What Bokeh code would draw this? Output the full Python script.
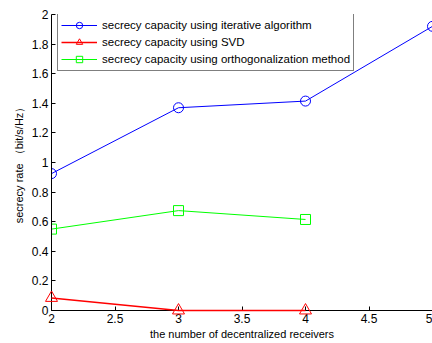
from bokeh.plotting import figure
from bokeh.models import Range1d, FixedTicker
from bokeh.embed import file_html
from bokeh.resources import INLINE

receivers = [2, 3, 4, 5]
iterative = [0.925, 1.37, 1.415, 1.92]
svd_x = [2, 3, 4]
svd = [0.085, 0.0, 0.0]
orth_x = [2, 3, 4]
orth = [0.55, 0.675, 0.615]

x_ticks = [2, 2.5, 3, 3.5, 4, 4.5, 5]
y_ticks = [0, 0.2, 0.4, 0.6, 0.8, 1, 1.2, 1.4, 1.6, 1.8, 2]

FONT = "Liberation Sans"

p = figure(width=432, height=343, output_backend="svg", toolbar_location=None,
           x_range=Range1d(2, 5), y_range=Range1d(0, 2),
           min_border_left=51, min_border_right=0, min_border_top=14, min_border_bottom=33)
p.outline_line_color = None
p.grid.visible = False

p.line(receivers, iterative, color="#0000FF", line_width=1, legend_label="secrecy capacity using iterative algorithm")
p.scatter(receivers, iterative, marker="circle", size=10, fill_color=None, line_color="#0000FF",
          legend_label="secrecy capacity using iterative algorithm")
p.line(svd_x, svd, color="#FF0000", line_width=1.5, legend_label="secrecy capacity using SVD", level="overlay")
p.scatter(svd_x, svd, marker="triangle", size=12, fill_color=None, line_color="#FF0000",
          legend_label="secrecy capacity using SVD", level="overlay")
p.line(orth_x, orth, color="#00FF00", line_width=1, legend_label="secrecy capacity using orthogonalization method")
p.scatter(orth_x, orth, marker="square", size=10, fill_color=None, line_color="#00FF00",
          legend_label="secrecy capacity using orthogonalization method")

for ax in (p.xaxis, p.yaxis):
    ax.major_tick_in = 4
    ax.major_tick_out = 0
    ax.minor_tick_in = 0
    ax.minor_tick_out = 0
    ax.axis_line_color = "black"
    ax.major_tick_line_color = "black"
    ax.major_label_text_font = FONT
    ax.major_label_text_font_size = "12px"
    ax.major_label_text_color = "black"
    ax.axis_label_text_font = FONT
    ax.axis_label_text_font_size = "11px"
    ax.axis_label_text_font_style = "normal"
    ax.axis_label_text_color = "black"

p.xaxis.ticker = FixedTicker(ticks=x_ticks)
p.yaxis.ticker = FixedTicker(ticks=y_ticks)
p.xaxis.major_label_overrides = {2: "2", 3: "3", 4: "4", 5: "5"}
p.yaxis.major_label_overrides = {0: "0", 1: "1", 2: "2"}
p.xaxis.axis_label = "the number of decentralized receivers"
p.yaxis.axis_label = "secrecy rate （bit/s/Hz）"
p.xaxis.major_label_standoff = 3
p.xaxis.axis_label_standoff = 2
p.yaxis.major_label_standoff = 3
p.yaxis.axis_label_standoff = 4

p.legend.location = (6, 239)
p.legend.margin = 0
p.legend.border_line_color = "black"
p.legend.border_line_width = 1.5
p.legend.label_text_font = FONT
p.legend.label_text_font_size = "11.5px"
p.legend.label_text_color = "black"
p.legend.glyph_width = 36
p.legend.glyph_height = 16
p.legend.spacing = 1
p.legend.padding = 3
p.legend.label_standoff = 5
p.legend.label_height = 16
p.legend.background_fill_color = "white"

open("out.html", "w").write(file_html(p, INLINE))
